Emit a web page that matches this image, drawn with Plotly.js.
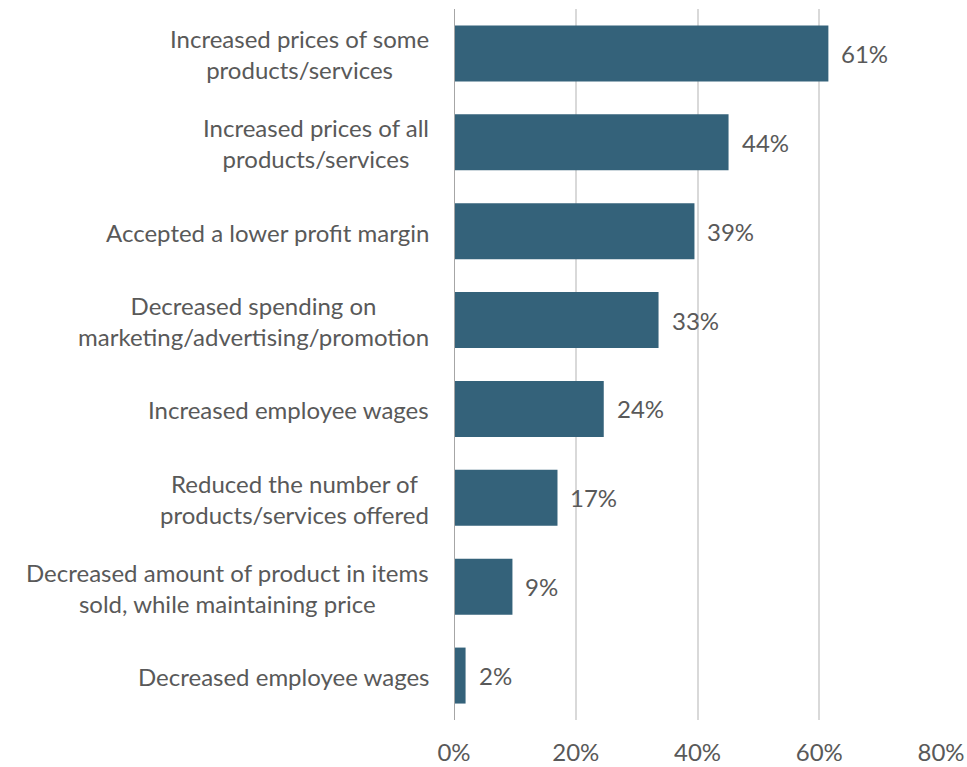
<!DOCTYPE html>
<html>
<head>
<meta charset="utf-8">
<script src="https://cdn.plot.ly/plotly-3.0.1.min.js"></script>
<style>html,body{margin:0;padding:0;background:#fff;}#chart{width:967px;height:767px;}</style>
</head>
<body>
<div id="chart"></div>
<script>
const categories = [
  "Increased prices of some<br>products/services",
  "Increased prices of all<br>products/services",
  "Accepted a lower profit margin",
  "Decreased spending on<br>marketing/advertising/promotion",
  "Increased employee wages",
  "Reduced the number of<br>products/services offered",
  "Decreased amount of product in items<br>sold, while maintaining price",
  "Decreased employee wages"
];
const values = [61.5, 45.1, 39.5, 33.6, 24.6, 17.0, 9.6, 1.9];
const valueLabels = ["61%", "44%", "39%", "33%", "24%", "17%", "9%", "2%"];
const tickVals = [0, 20, 40, 60, 80];
const tickText = ["0%", "20%", "40%", "60%", "80%"];

const FONT = "Lato, 'Open Sans', sans-serif";
const GREY = "#595959";

const trace = {
  type: "bar",
  orientation: "h",
  x: values,
  y: categories,
  marker: {color: "#34627a"},
  hoverinfo: "skip"
};

const annotations = [];
categories.forEach((c, i) => {
  annotations.push({
    xref: "paper", yref: "y", x: 0, y: c, xanchor: "right", yanchor: "middle",
    xshift: -23, yshift: -1, text: c, showarrow: false, align: "center",
    font: {family: FONT, size: 24, color: GREY}
  });
  annotations.push({
    xref: "x", yref: "y", x: values[i], y: c, xanchor: "left", yanchor: "middle",
    xshift: 11, text: valueLabels[i], showarrow: false,
    font: {family: FONT, size: 24, color: GREY}
  });
});

const layout = {
  width: 967, height: 767,
  margin: {l: 454, r: 26, t: 9, b: 47},
  paper_bgcolor: "#fff", plot_bgcolor: "#fff",
  bargap: 0.37,
  showlegend: false,
  font: {family: FONT, color: GREY},
  xaxis: {
    range: [0, 80], tickvals: tickVals, ticktext: tickText,
    showgrid: true, gridcolor: "#d9d9d9", gridwidth: 2,
    zeroline: false, showline: false, ticks: "",
    ticklabelstandoff: 16,
    tickfont: {family: FONT, size: 24, color: GREY}
  },
  yaxis: {
    autorange: "reversed", showticklabels: false, ticks: "",
    showgrid: false, zeroline: false, showline: false
  },
  shapes: [{
    type: "line", xref: "x", yref: "paper", x0: 0, x1: 0, y0: 0, y1: 1,
    line: {color: "#a6a6a6", width: 2}
  }],
  annotations: annotations
};

Plotly.newPlot("chart", [trace], layout, {displayModeBar: false, staticPlot: true});
</script>
</body>
</html>
